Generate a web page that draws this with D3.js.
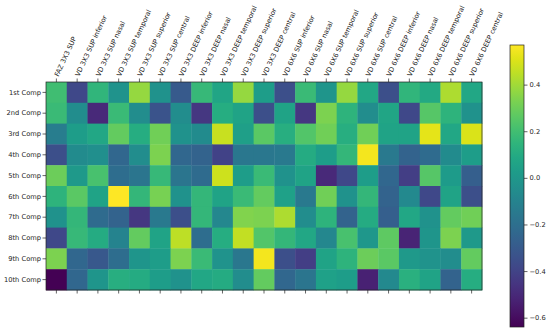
<!DOCTYPE html>
<html lang="en">
<head>
<meta charset="utf-8">
<script src="https://d3js.org/d3.v7.min.js"></script>
<style>
  body { margin: 0; background: #fff; }
  .axis text { font-family: "DejaVu Sans", sans-serif; font-size: 6.7px; fill: #222; }
  .axis path { display: none; }
  .axis line { stroke: #222; stroke-width: 0.7; }
</style>
</head>
<body>
<svg id="chart" width="550" height="332"></svg>
<script>
// features along the x axis
var features = ["FAZ 3X3 SUP", "VD 3X3 SUP inferior", "VD 3X3 SUP nasal", "VD 3X3 SUP temporal",
  "VD 3X3 SUP superior", "VD 3X3 SUP central", "VD 3X3 DEEP inferior", "VD 3X3 DEEP nasal",
  "VD 3X3 DEEP temporal", "VD 3X3 DEEP superior", "VD 3X3 DEEP central", "VD 6X6 SUP inferior",
  "VD 6X6 SUP nasal", "VD 6X6 SUP temporal", "VD 6X6 SUP superior", "VD 6X6 SUP central",
  "VD 6X6 DEEP inferior", "VD 6X6 DEEP nasal", "VD 6X6 DEEP temporal", "VD 6X6 DEEP superior",
  "VD 6X6 DEEP central"];

var comps = ["1st Comp", "2nd Comp", "3rd Comp", "4th Comp", "5th Comp",
  "6th Comp", "7th Comp", "8th Comp", "9th Comp", "10th Comp"];

// loadings, one row per component
var comp1  = [0.20, -0.38, 0.15, -0.02, 0.38, -0.03, -0.30, 0.17, 0.07, 0.38, 0.03, -0.35, 0.18, -0.01, 0.38, 0.08, -0.35, 0.15, 0.09, 0.42, 0.08];
var comp2  = [0.18, -0.05, -0.50, 0.18, -0.05, -0.33, -0.05, -0.45, 0.11, 0.06, -0.35, 0.06, -0.45, 0.33, 0.14, -0.05, 0.07, -0.38, 0.25, 0.14, -0.03];
var comp3  = [-0.13, 0.03, 0.08, 0.28, 0.11, 0.31, -0.03, -0.06, 0.47, 0.04, 0.26, 0.12, 0.24, 0.31, 0.12, 0.31, 0.06, 0.06, 0.52, 0.08, 0.50];
var comp4  = [-0.35, -0.06, -0.04, -0.24, -0.05, 0.33, -0.24, -0.26, -0.40, -0.16, -0.16, -0.15, 0.10, 0.03, 0.16, 0.55, -0.15, -0.26, -0.22, -0.06, 0.03];
var comp5  = [0.30, 0.01, 0.22, -0.21, -0.17, 0.17, -0.17, -0.22, 0.48, 0.03, 0.18, -0.03, 0.06, -0.50, -0.38, 0.03, -0.24, -0.42, 0.25, 0.02, -0.28];
var comp6  = [0.14, 0.26, 0.06, 0.57, 0.16, 0.32, -0.03, 0.16, 0.06, 0.18, 0.28, 0.05, -0.15, 0.31, -0.03, 0.16, -0.26, -0.07, -0.38, 0.06, -0.35];
var comp7  = [-0.03, 0.16, -0.22, -0.26, -0.45, -0.15, -0.35, 0.16, -0.08, 0.34, 0.33, 0.42, -0.05, 0.14, -0.26, 0.10, -0.28, 0.08, -0.03, 0.28, 0.31];
var comp8  = [-0.38, 0.17, 0.10, -0.10, 0.28, 0.06, 0.45, -0.21, 0.11, 0.46, 0.24, 0.16, 0.08, -0.08, 0.22, 0.00, 0.27, -0.52, -0.01, 0.33, 0.01];
var comp9  = [0.33, -0.24, -0.31, -0.21, -0.01, 0.03, 0.33, 0.18, -0.02, -0.16, 0.55, -0.35, -0.42, 0.06, 0.14, 0.30, 0.26, 0.01, -0.02, -0.05, 0.28];
var comp10 = [-0.64, -0.24, -0.01, 0.12, 0.10, 0.03, -0.03, 0.08, 0.10, -0.05, 0.28, -0.24, -0.17, 0.05, 0.03, -0.53, -0.07, 0.13, 0.06, -0.26, 0.11];

var values = [comp1, comp2, comp3, comp4, comp5, comp6, comp7, comp8, comp9, comp10];

var colorDomain = [-0.64, 0.57];
var cbarTicks = [-0.6, -0.4, -0.2, 0.0, 0.2, 0.4];

var svg = d3.select("#chart");

var x = d3.scaleBand().domain(features).range([46, 482]);
var y = d3.scaleBand().domain(comps).range([82, 290]);
var color = d3.scaleSequential(d3.interpolateViridis).domain(colorDomain);

// flatten into cells
var cells = [];
values.forEach(function(row, i) {
  row.forEach(function(v, j) {
    cells.push({ comp: comps[i], feat: features[j], value: v });
  });
});

svg.append("g").selectAll("rect")
  .data(cells)
  .enter().append("rect")
    .attr("x", function(d) { return x(d.feat); })
    .attr("y", function(d) { return y(d.comp); })
    .attr("width", x.bandwidth() + 0.4)
    .attr("height", y.bandwidth() + 0.4)
    .attr("fill", function(d) { return color(d.value); });

// frame
svg.append("rect")
  .attr("x", 46).attr("y", 82)
  .attr("width", 436).attr("height", 208)
  .attr("fill", "none").attr("stroke", "#222").attr("stroke-width", 0.7);

// top axis with rotated labels
var xTop = svg.append("g")
  .attr("class", "axis")
  .attr("transform", "translate(0,82)")
  .call(d3.axisTop(x).tickSize(3.5).tickPadding(0));

xTop.selectAll("text")
  .attr("text-anchor", "start")
  .attr("x", 0).attr("y", 0).attr("dy", 0)
  .attr("transform", "translate(2,-5) rotate(-65)");

// bottom ticks, no labels
svg.append("g")
  .attr("class", "axis")
  .attr("transform", "translate(0,290)")
  .call(d3.axisBottom(x).tickSize(3.5).tickFormat(""));

svg.append("g")
  .attr("class", "axis")
  .attr("transform", "translate(46,0)")
  .call(d3.axisLeft(y).tickSize(3.5).tickPadding(1.5));

// colorbar
var cbY = d3.scaleLinear().domain(colorDomain).range([327, 45]);

var grad = svg.append("defs").append("linearGradient")
  .attr("id", "cbgrad")
  .attr("x1", "0").attr("y1", "1").attr("x2", "0").attr("y2", "0");

d3.range(0, 1.0001, 0.05).forEach(function(t) {
  grad.append("stop")
    .attr("offset", t)
    .attr("stop-color", d3.interpolateViridis(t));
});

svg.append("rect")
  .attr("x", 510).attr("y", cbY(colorDomain[1]))
  .attr("width", 14).attr("height", cbY(colorDomain[0]) - cbY(colorDomain[1]))
  .attr("fill", "url(#cbgrad)")
  .attr("stroke", "#222").attr("stroke-width", 0.7);

svg.append("g")
  .attr("class", "axis")
  .attr("transform", "translate(524,0)")
  .call(d3.axisRight(cbY).tickValues(cbarTicks).tickSize(3.5).tickPadding(2)
    .tickFormat(function(d) { return d3.format(".1f")(d).replace("-", "\u2212"); }));
</script>
</body>
</html>
